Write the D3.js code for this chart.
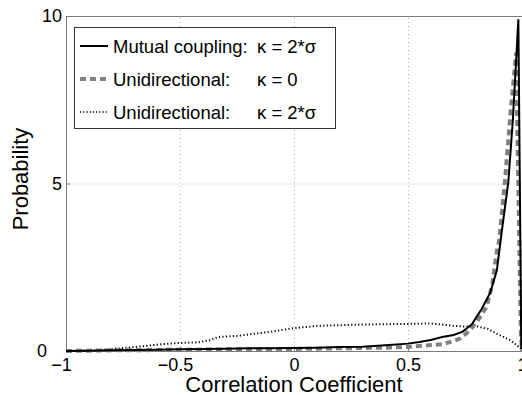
<!DOCTYPE html>
<html>
<head>
<meta charset="utf-8">
<script src="https://cdn.jsdelivr.net/npm/d3@7"></script>
<style>
  body { margin: 0; background: #fff; }
  svg { display: block; font-family: "Liberation Sans", Arial, sans-serif; }
</style>
</head>
<body>
<div id="chart"></div>
<script>
// Data
const xTicks = [-1, -0.5, 0, 0.5, 1];
const yTicks = [0, 5, 10];

const mutualX = [-1, -0.9, -0.8, -0.7, -0.6, -0.5, -0.4, -0.3, -0.2, -0.1, 0, 0.1, 0.2, 0.3, 0.4, 0.5, 0.55, 0.6, 0.65, 0.7, 0.74, 0.78, 0.82, 0.86, 0.89, 0.91, 0.94, 0.96, 0.984, 0.997];
const mutualY = [0, 0.01, 0.02, 0.03, 0.04, 0.05, 0.06, 0.07, 0.08, 0.08, 0.09, 0.1, 0.12, 0.13, 0.17, 0.22, 0.27, 0.33, 0.42, 0.48, 0.58, 0.8, 1.22, 1.73, 2.42, 3.5, 5.05, 6.9, 9.9, 0.05];

const uniZeroX = [-1, -0.9, -0.8, -0.7, -0.6, -0.5, -0.4, -0.3, -0.2, -0.1, 0, 0.1, 0.2, 0.3, 0.4, 0.5, 0.55, 0.6, 0.65, 0.7, 0.73, 0.76, 0.785, 0.815, 0.845, 0.87, 0.89, 0.9, 0.925, 0.947, 0.974, 0.995, 1.0];
const uniZeroY = [0, 0.01, 0.02, 0.02, 0.03, 0.04, 0.04, 0.05, 0.05, 0.06, 0.06, 0.07, 0.08, 0.09, 0.1, 0.12, 0.15, 0.18, 0.2, 0.3, 0.38, 0.55, 0.73, 1.0, 1.32, 2.0, 3.0, 3.3, 5.05, 6.9, 8.9, 0.5, 0];

const uniTwoX = [-1, -0.9, -0.85, -0.8, -0.73, -0.65, -0.59, -0.5, -0.42, -0.37, -0.33, -0.25, -0.18, -0.1, 0, 0.1, 0.2, 0.3, 0.4, 0.5, 0.6, 0.65, 0.7, 0.75, 0.8, 0.85, 0.9, 0.95, 0.99, 1.0];
const uniTwoY = [0, 0.02, 0.03, 0.06, 0.1, 0.15, 0.2, 0.24, 0.26, 0.32, 0.42, 0.45, 0.51, 0.58, 0.68, 0.75, 0.77, 0.79, 0.8, 0.81, 0.82, 0.79, 0.75, 0.73, 0.74, 0.66, 0.48, 0.32, 0.1, 0.02];

const legendNames = ["Mutual coupling:", "Unidirectional:", "Unidirectional:"];
const legendParams = ["\u03ba = 2*\u03c3", "\u03ba = 0", "\u03ba = 2*\u03c3"];

const W = 522, H = 395;
const margin = { top: 16, right: 0, bottom: 44, left: 66 };

const svg = d3.select("#chart").append("svg")
    .attr("width", W)
    .attr("height", H);

const x = d3.scaleLinear().domain([-1, 1]).range([margin.left, W - margin.right]);
const y = d3.scaleLinear().domain([0, 10]).range([H - margin.bottom, margin.top]);

// grid
const grid = svg.append("g")
    .attr("stroke", "#b5b5b5")
    .attr("stroke-width", 1)
    .attr("stroke-dasharray", "1,3");
grid.selectAll(".gx").data(xTicks.slice(1, -1)).join("line")
    .attr("x1", d => x(d) + 0.5).attr("x2", d => x(d) + 0.5)
    .attr("y1", y(0)).attr("y2", y(10));
grid.selectAll(".gy").data(yTicks.slice(1, -1)).join("line")
    .attr("y1", d => y(d) + 0.5).attr("y2", d => y(d) + 0.5)
    .attr("x1", x(-1)).attr("x2", x(1));

// axes
const xAxis = svg.append("g")
    .attr("transform", `translate(0,${y(0)})`)
    .call(d3.axisBottom(x).tickValues(xTicks).tickSizeInner(-4).tickSizeOuter(0)
        .tickFormat(d => d < 0 ? "\u2212" + Math.abs(d) : d));
xAxis.selectAll("text")
    .attr("y", 7)
    .attr("dy", "0.71em")
    .attr("dx", d => d < 0 ? -5 : 0)
    .style("font-size", "18px")
    .attr("fill", "#000");

const yAxis = svg.append("g")
    .attr("transform", `translate(${x(-1)},0)`)
    .call(d3.axisLeft(y).tickValues(yTicks).tickSizeInner(-4).tickSizeOuter(0));
yAxis.selectAll("text")
    .attr("x", d => d === 0 ? -19 : -4)
    .style("font-size", "18px")
    .attr("fill", "#000");

svg.selectAll(".domain").attr("stroke", "#7a7a7a");
svg.selectAll(".tick line").attr("stroke", "#7a7a7a");

// top border
svg.append("line")
    .attr("x1", x(-1)).attr("x2", x(1))
    .attr("y1", y(10) + 0.5).attr("y2", y(10) + 0.5)
    .attr("stroke", "#7a7a7a");

// curves
const line = d3.line().x(d => x(d[0])).y(d => y(d[1]));
const zip = (a, b) => a.map((v, i) => [v, b[i]]);

svg.append("path")
    .datum(zip(uniTwoX, uniTwoY))
    .attr("d", line)
    .attr("fill", "none")
    .attr("stroke", "#000")
    .attr("stroke-width", 2)
    .attr("stroke-dasharray", "1.2,2.3");

svg.append("path")
    .datum(zip(uniZeroX, uniZeroY))
    .attr("d", line)
    .attr("fill", "none")
    .attr("stroke", "#808080")
    .attr("stroke-width", 4)
    .attr("stroke-dasharray", "6,4");

svg.append("path")
    .datum(zip(mutualX, mutualY))
    .attr("d", line)
    .attr("fill", "none")
    .attr("stroke", "#000")
    .attr("stroke-width", 2);

// legend
const legend = svg.append("g");
legend.append("rect")
    .attr("x", 74.5).attr("y", 27.5)
    .attr("width", 261).attr("height", 101)
    .attr("fill", "#fff")
    .attr("stroke", "#333");

const rowY = [46, 79, 112];
const styles = [
  { stroke: "#000", width: 2, dash: null },
  { stroke: "#808080", width: 4, dash: "6,4" },
  { stroke: "#000", width: 1.6, dash: "1.2,2" }
];
rowY.forEach((ry, i) => {
  legend.append("line")
      .attr("x1", 80).attr("x2", 108)
      .attr("y1", ry).attr("y2", ry)
      .attr("stroke", styles[i].stroke)
      .attr("stroke-width", styles[i].width)
      .attr("stroke-dasharray", styles[i].dash);
  legend.append("text")
      .attr("x", 113).attr("y", ry + 7)
      .style("font-size", "18.5px")
      .text(legendNames[i]);
  legend.append("text")
      .attr("x", 257).attr("y", ry + 7)
      .style("font-size", "18.5px")
      .text(legendParams[i]);
});

// axis labels
svg.append("text")
    .attr("x", x(0))
    .attr("y", 392)
    .attr("text-anchor", "middle")
    .style("font-size", "22px")
    .text("Correlation Coefficient");

svg.append("text")
    .attr("transform", `translate(28,179) rotate(-90)`)
    .attr("text-anchor", "middle")
    .style("font-size", "22px")
    .text("Probability");
</script>
</body>
</html>
